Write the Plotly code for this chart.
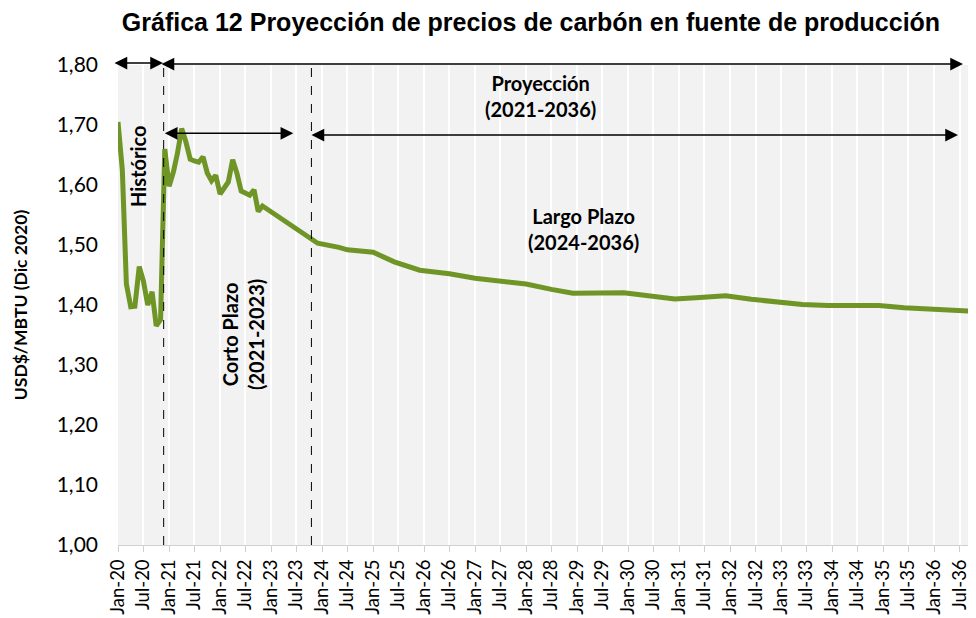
import plotly.graph_objects as go

# ---- Data ----
fechas = [
    "2020-01-01", "2020-02-01", "2020-03-01", "2020-04-01", "2020-05-01", "2020-06-01",
    "2020-07-01", "2020-08-01", "2020-09-01", "2020-10-01", "2020-11-01", "2020-12-01",
    "2021-01-01", "2021-02-01", "2021-03-01", "2021-04-01", "2021-05-01", "2021-06-01",
    "2021-07-01", "2021-08-01", "2021-09-01", "2021-10-01", "2021-11-01", "2021-12-01",
    "2022-01-01", "2022-02-01", "2022-03-01", "2022-04-01", "2022-05-01", "2022-06-01",
    "2022-07-01", "2022-08-01", "2022-09-01", "2022-10-01", "2022-11-01",
    "2023-11-01", "2023-12-01",
    "2024-05-01", "2024-07-01", "2025-01-01", "2025-06-01", "2025-12-01",
    "2026-07-01", "2027-01-01", "2027-07-01", "2028-01-01", "2028-07-01", "2028-12-01",
    "2029-12-01", "2030-07-01", "2030-12-01", "2031-05-01", "2031-12-01",
    "2032-06-01", "2032-12-01", "2033-06-01", "2033-12-01", "2034-12-01",
    "2035-06-01", "2035-12-01", "2036-05-01", "2036-12-01",
]
precios = [
    1.705, 1.625, 1.435, 1.397, 1.398, 1.464,
    1.440, 1.400, 1.422, 1.365, 1.376, 1.660,
    1.598, 1.622, 1.652, 1.694, 1.672, 1.643,
    1.640, 1.638, 1.647, 1.620, 1.607, 1.616,
    1.585, 1.595, 1.605, 1.642, 1.620, 1.590,
    1.586, 1.583, 1.592, 1.556, 1.565,
    1.509, 1.503,
    1.496, 1.492, 1.488, 1.472, 1.458,
    1.452, 1.4445, 1.4405, 1.435, 1.426, 1.4195,
    1.4205, 1.415, 1.410, 1.412, 1.4155,
    1.4095, 1.4045, 1.401, 1.399, 1.399,
    1.3955, 1.393, 1.393, 1.389,
]

tick_fechas = [f"{y}-{m:02d}-01" for y in range(2020, 2037) for m in (1, 7)]
y_ticks = [1.0, 1.1, 1.2, 1.3, 1.4, 1.5, 1.6, 1.7, 1.8]

titulo = "Gráfica 12 Proyección de precios de carbón en fuente de producción"
y_titulo = "USD$/MBTU (Dic 2020)"

FONT = "Lato, Carlito, Calibri, Open Sans, sans-serif"

# The page body has an 8px default margin, so the figure is sized to fill
# the remaining 968x610 of the 976x618 window.
OFF = 8
W, H = 976 - OFF, 618 - OFF

fig = go.Figure()
fig.add_trace(go.Scatter(
    x=fechas, y=precios, mode="lines",
    line=dict(color="#6E9526", width=5),
    hoverinfo="skip", showlegend=False,
))

fig.update_layout(
    width=W, height=H,
    margin=dict(l=118 - OFF, r=0, t=65 - OFF, b=73, autoexpand=False),
    paper_bgcolor="white",
    plot_bgcolor="#F2F2F2",
    separators=",.",
    font=dict(family=FONT, size=19, color="black"),
    title=dict(
        text="<b>" + titulo + "</b>",
        x=(531 - OFF) / W, xanchor="center", xref="container",
        y=1 - (22 - OFF) / H, yanchor="middle", yref="container",
        font=dict(family="Liberation Sans, Arial", size=25, color="black"),
    ),
    xaxis=dict(
        type="date",
        range=["2020-01-01", "2036-10-27"],
        tickmode="array",
        tickvals=tick_fechas,
        tickformat="%b-%y",
        tickangle=-90,
        ticks="outside", ticklen=6, tickcolor="#D0D0D0", tickwidth=1,
        showline=True, linecolor="#D0D0D0", linewidth=1,
        showgrid=True, gridcolor="white", gridwidth=2,
        zeroline=False, automargin=False,
        tickfont=dict(family=FONT, size=18.5, color="black"),
        fixedrange=True,
    ),
    yaxis=dict(
        range=[1.0, 1.8],
        tickmode="array",
        tickvals=y_ticks,
        tickformat=".2f",
        ticks="",
        showgrid=False, zeroline=False, showline=False,
        ticklabelstandoff=19, automargin=False,
        tickfont=dict(family=FONT, size=21, color="black"),
        title=dict(text="<b>" + y_titulo + "</b>", standoff=24,
                   font=dict(family=FONT, size=17.5, color="black")),
        fixedrange=True,
    ),
)

# dashed vertical separators
for xd in ["2020-11-23", "2023-10-17"]:
    fig.add_shape(type="line", xref="x", yref="paper", x0=xd, x1=xd, y0=0, y1=1.004,
                  line=dict(color="black", width=1, dash="dash"))

PW = 858.0  # plot width in px
def px_x(p):
    return (p - 118.0) / PW
def px_y(p):
    return (545 - p) / 480

# double-headed arrows: (left px, right px, y px)
flechas = [(113, 163, 63), (160, 963, 64), (163.3, 293.3, 133.3), (310, 958, 135)]
for x0, x1, yy in flechas:
    fig.add_annotation(
        x=px_x(x1), y=px_y(yy), xref="paper", yref="paper",
        ax=-(x1 - x0), ay=0, axref="pixel", ayref="pixel",
        text="", showarrow=True, arrowside="end+start",
        arrowhead=2, startarrowhead=2, arrowsize=1.7, startarrowsize=1.7,
        arrowwidth=1.5, arrowcolor="black", standoff=0, startstandoff=0,
    )

textos = [
    ("<b>Histórico</b>", 138, 167, -90),
    ("<b>Corto Plazo<br>(2021-2023)</b>", 243, 335, -90),
    ("<b>Proyección<br>(2021-2036)</b>", 540, 96, 0),
    ("<b>Largo Plazo<br>(2024-2036)</b>", 583, 229, 0),
]
for t, xx, yy, ang in textos:
    fig.add_annotation(
        x=px_x(xx), y=px_y(yy), xref="paper", yref="paper",
        text=t, showarrow=False, textangle=ang, align="center",
        xanchor="center", yanchor="middle",
        font=dict(family=FONT, size=20, color="black"),
    )

fig.write_html("out.html")
